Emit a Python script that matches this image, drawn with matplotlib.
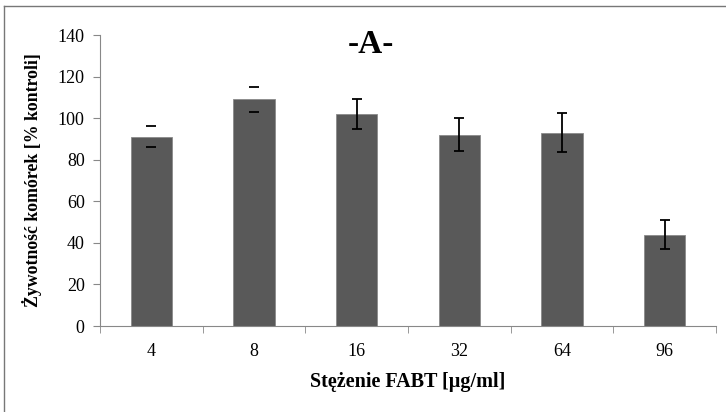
import numpy as np
import matplotlib
matplotlib.use('Agg')
import matplotlib.pyplot as plt
from matplotlib.lines import Line2D

# dane
stezenia = ['4', '8', '16', '32', '64', '96']
przezywalnosc = [91, 109, 102, 92, 93, 44]
odchylenie = [5, 6, 7, 8, 9.5, 7]

plt.rcParams['font.family'] = ['Liberation Serif', 'DejaVu Serif']

fig = plt.figure(figsize=(7.26, 4.12), dpi=100)
ax = fig.add_axes([0.1377, 0.2087, 0.8485, 0.7063])

x = np.arange(len(stezenia))
ax.bar(x, przezywalnosc, width=0.4, color='#595959', edgecolor='#8a8a8a', linewidth=0.6, zorder=2)

# pierwsze dwa słupki mają w oryginale tylko "wąsy" bez pionowej linii
for i in range(len(x)):
    ew = 0 if i < 2 else 1.3
    ax.errorbar(x[i], przezywalnosc[i], yerr=odchylenie[i], fmt='none', ecolor='black',
                elinewidth=ew, capsize=3.7, capthick=1.3, zorder=3)

ax.set_xlim(-0.5, len(stezenia) - 0.5)
ax.set_ylim(0, 140)
ax.set_yticks(range(0, 141, 20))
ax.set_xticks(x)
ax.set_xticklabels(stezenia)
ax.set_xticks(np.arange(-0.5, len(stezenia), 1), minor=True)
ax.tick_params(axis='x', which='major', length=0, pad=12, labelsize=13)
ax.tick_params(axis='x', which='minor', length=5, color='#888888', direction='out')
ax.tick_params(axis='y', length=5, color='#888888', labelsize=13, pad=6)

for s in ['top', 'right']:
    ax.spines[s].set_visible(False)
for s in ['left', 'bottom']:
    ax.spines[s].set_color('#888888')

ax.set_ylabel('Żywotność komórek [% kontroli]', fontsize=12.8, fontweight='bold', labelpad=11)
ax.set_xlabel('Stężenie FABT [µg/ml]', fontsize=14.5, fontweight='bold', labelpad=9)
ax.text(0.44, 1.02, '-A-', transform=ax.transAxes, ha='center', va='top',
        fontsize=24, fontweight='bold')

# ramka wykresu (widoczna tylko z lewej i u góry)
fig.add_artist(Line2D([0.0055, 0.0055], [0.0, 0.985], color='#777777', lw=1, transform=fig.transFigure))
fig.add_artist(Line2D([0.0055, 1.0], [0.985, 0.985], color='#777777', lw=1, transform=fig.transFigure))

fig.savefig('out.png', dpi=100)
